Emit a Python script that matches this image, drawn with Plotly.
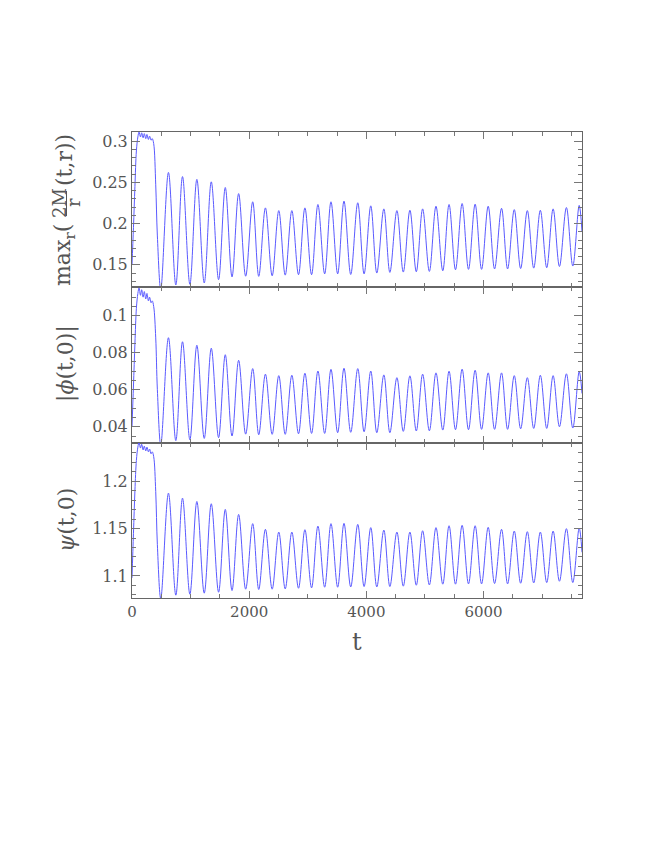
import plotly.graph_objects as go
from plotly.subplots import make_subplots

# ---- data ----
t_init = [0, 25, 50, 75, 100, 120, 145, 165, 190, 210, 235, 255, 280, 300, 325, 345, 370, 405, 433]
m_init = [0.150, 0.195, 0.245, 0.288, 0.305, 0.311, 0.305, 0.310, 0.304, 0.309, 0.303, 0.308,
          0.302, 0.306, 0.301, 0.303, 0.297, 0.247, 0.185]
phi_init = [0.040, 0.062, 0.085, 0.104, 0.112, 0.115, 0.111, 0.114, 0.110, 0.113, 0.109, 0.112,
            0.108, 0.110, 0.107, 0.108, 0.105, 0.088, 0.060]
psi_init = [1.098, 1.145, 1.190, 1.222, 1.236, 1.241, 1.235, 1.239, 1.233, 1.237, 1.232, 1.236,
            1.231, 1.234, 1.229, 1.231, 1.226, 1.189, 1.133]

t_trough = [491, 748, 988, 1233, 1478, 1707, 1940, 2163, 2392, 2615, 2842, 3065, 3288, 3510, 3733, 3961,
            4178, 4401, 4630, 4852, 5075, 5304, 5521, 5743, 5966, 6188, 6410, 6633, 6856, 7078, 7295, 7523]
t_peak = [622, 862, 1107, 1353, 1592, 1820, 2060, 2277, 2505, 2728, 2951, 3173, 3396, 3618, 3853, 4075,
          4298, 4521, 4743, 4960, 5188, 5411, 5634, 5856, 6079, 6307, 6524, 6747, 6969, 7187, 7414, 7632]
t_end = 7680

m_trough = [0.120, 0.1256, 0.1264, 0.128, 0.132, 0.1354, 0.1362, 0.136, 0.1367, 0.1375, 0.138, 0.138,
            0.139, 0.139, 0.1383, 0.139, 0.140, 0.1408, 0.1412, 0.1416, 0.142, 0.1428, 0.144, 0.1445,
            0.1445, 0.145, 0.145, 0.1455, 0.146, 0.1465, 0.148, 0.1485]
m_peak = [0.262, 0.257, 0.2536, 0.2506, 0.2437, 0.2363, 0.2264, 0.219, 0.2157, 0.2157, 0.219, 0.2231,
          0.2264, 0.2272, 0.2252, 0.2215, 0.2178, 0.2157, 0.2161, 0.2178, 0.221, 0.2231, 0.2243, 0.2235,
          0.221, 0.2185, 0.2169, 0.2157, 0.2161, 0.2178, 0.2194, 0.222]
m_end = 0.19

phi_trough = [0.030, 0.0325, 0.033, 0.0337, 0.0341, 0.035, 0.036, 0.0357, 0.0359, 0.0359, 0.0362, 0.0364,
              0.0364, 0.0368, 0.037, 0.0373, 0.0368, 0.0368, 0.0375, 0.0377, 0.0378, 0.0382, 0.0384, 0.0384,
              0.0386, 0.0386, 0.0386, 0.0389, 0.0391, 0.0391, 0.040, 0.0393]
phi_peak = [0.0881, 0.0859, 0.084, 0.0824, 0.0789, 0.0759, 0.0714, 0.0684, 0.0676, 0.0678, 0.0689, 0.0701,
            0.071, 0.0716, 0.0714, 0.0701, 0.068, 0.0665, 0.0675, 0.0684, 0.0691, 0.070, 0.0711, 0.0705,
            0.0691, 0.0691, 0.0676, 0.0665, 0.0678, 0.0676, 0.0686, 0.0698]
phi_end = 0.058

psi_trough = [1.076, 1.0797, 1.0807, 1.0818, 1.0828, 1.0846, 1.086, 1.0857, 1.086, 1.0863, 1.087, 1.0874,
              1.0881, 1.0881, 1.0884, 1.0888, 1.0884, 1.0888, 1.0892, 1.0902, 1.0905, 1.0913, 1.0913, 1.0916,
              1.0916, 1.092, 1.0916, 1.0923, 1.0926, 1.093, 1.0944, 1.093]
psi_peak = [1.1874, 1.1821, 1.1786, 1.1762, 1.1702, 1.1649, 1.1552, 1.1492, 1.1463, 1.1463, 1.1488, 1.1526,
            1.1552, 1.1555, 1.1544, 1.151, 1.1484, 1.1463, 1.1463, 1.1477, 1.151, 1.153, 1.1534, 1.153,
            1.1513, 1.1492, 1.1474, 1.1467, 1.1463, 1.1474, 1.1499, 1.1505]
psi_end = 1.125


def build(init_vals, troughs, peaks, end_val):
    t = list(t_init)
    v = list(init_vals)
    for tt, vt, tp, vp in zip(t_trough, troughs, t_peak, peaks):
        t += [tt, tp]
        v += [vt, vp]
    t.append(t_end)
    v.append(end_val)
    return t, v


series = [
    build(m_init, m_trough, m_peak, m_end),
    build(phi_init, phi_trough, phi_peak, phi_end),
    build(psi_init, psi_trough, psi_peak, psi_end),
]

LINE = "#5a5aff"
AX = "#666666"
TK = "#777777"
FONT = "DejaVu Serif"

fig = make_subplots(rows=3, cols=1, shared_xaxes=True, vertical_spacing=0)
for i, (t, v) in enumerate(series):
    fig.add_trace(go.Scatter(x=t, y=v, mode="lines", line=dict(color=LINE, width=1, shape="spline", smoothing=1),
                             showlegend=False, hoverinfo="skip"), row=i + 1, col=1)

yranges = [[0.1227, 0.311], [0.0314, 0.1153], [1.0767, 1.2407]]
ydt = [0.05, 0.02, 0.05]
ymin = [0.01, 0.005, 0.01]
for i in range(3):
    fig.update_yaxes(range=yranges[i], dtick=ydt[i], tick0=0, ticks="inside", ticklen=8, tickcolor=TK,
                     tickwidth=1, showline=True, linecolor=AX, linewidth=1, mirror="allticks",
                     showgrid=False, zeroline=False,
                     minor=dict(dtick=ymin[i], tick0=0, ticks="inside", ticklen=4, tickcolor=TK, showgrid=False),
                     tickfont=dict(family=FONT, size=16, color="#555"), row=i + 1, col=1)
    fig.update_xaxes(range=[0, 7680], dtick=2000, tick0=0, ticks="inside", ticklen=7, tickcolor=TK,
                     showline=True, linecolor=AX, linewidth=1, mirror="allticks", showgrid=False, zeroline=False,
                     minor=dict(dtick=500, tick0=0, ticks="inside", ticklen=4, tickcolor=TK, showgrid=False),
                     tickfont=dict(family=FONT, size=15, color="#555"),
                     showticklabels=(i == 2), row=i + 1, col=1)

# page offset of the plot div (body margin)
OFF = 8
W, H = 654, 846
L, R, T, B = 124, 80, 124, 256
pw, ph = W - L - R, H - T - B


def px(x):
    return (x - OFF - L) / pw


def py(y):
    return (OFF + H - B - y) / ph


tf = dict(family=FONT, color="#555")
ann = []
# top y title pieces
ann.append(dict(text="max<sub>r</sub>(", x=px(64), y=py(255), textangle=-90, font=dict(size=22, **tf)))
ann.append(dict(text="2M", x=px(59), y=py(203), textangle=-90, font=dict(size=18, **tf)))
ann.append(dict(text="r", x=px(73), y=py(203), textangle=-90, font=dict(size=18, **tf)))
ann.append(dict(text="(t,r))", x=px(64), y=py(160), textangle=-90, font=dict(size=22, **tf)))
# middle
ann.append(dict(text="|<i>ϕ</i>(t,0)|", x=px(66), y=py(364), textangle=-90, font=dict(size=22, **tf)))
# bottom
ann.append(dict(text="<i>ψ</i>(t,0)", x=px(66), y=py(520), textangle=-90, font=dict(size=22, **tf)))
# x title
ann.append(dict(text="t", x=px(357), y=py(642), font=dict(size=24, **tf)))
for a in ann:
    a.update(xref="paper", yref="paper", xanchor="center", yanchor="middle", showarrow=False)

fig.update_layout(
    width=W, height=H, margin=dict(l=L, r=R, t=T, b=B),
    paper_bgcolor="white", plot_bgcolor="white",
    annotations=ann,
    shapes=[dict(type="line", xref="paper", yref="paper", x0=px(66.5), x1=px(66.5), y0=py(191), y1=py(216),
                 line=dict(color="#555", width=1))],
)

fig.write_html("out.html")
